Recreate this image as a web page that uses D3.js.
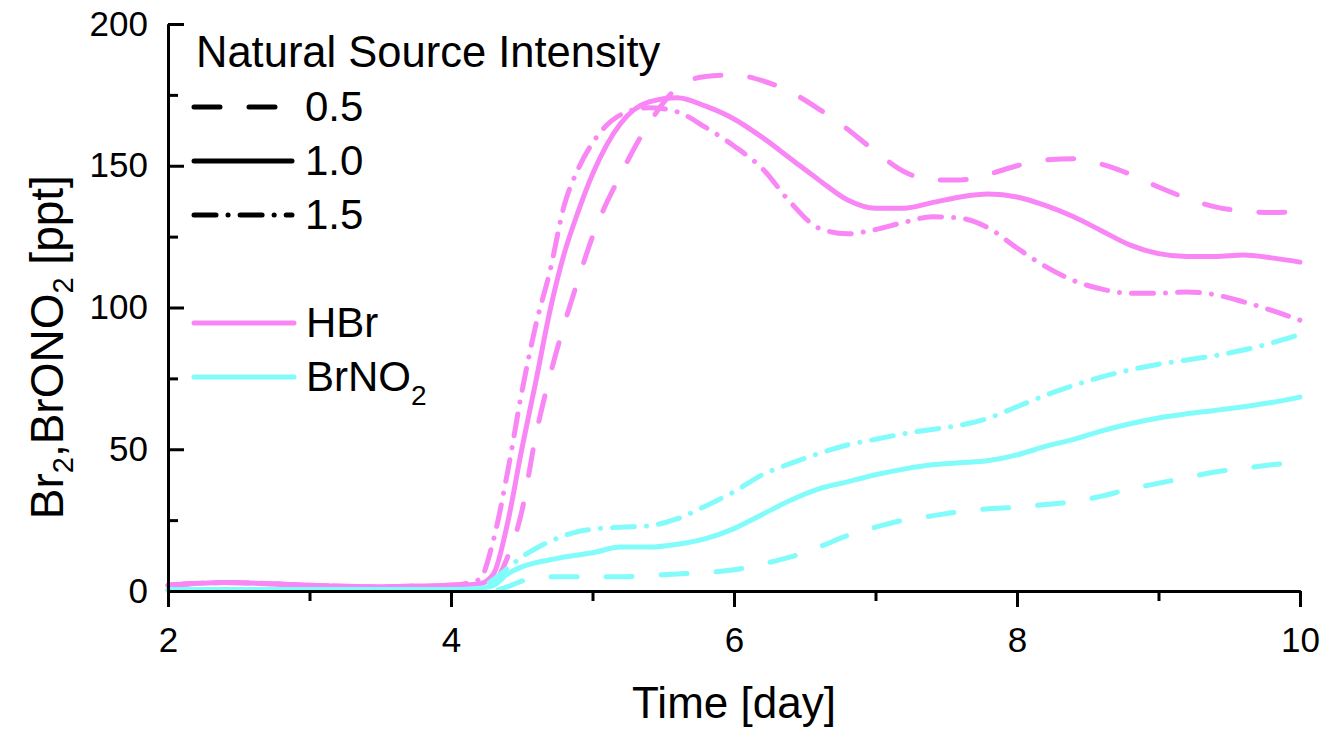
<!DOCTYPE html>
<html>
<head>
<meta charset="utf-8">
<script src="https://cdn.jsdelivr.net/npm/d3@7"></script>
<style>
  body { margin: 0; background: #fff; }
  svg text { font-family: "Liberation Sans", Arial, sans-serif; fill: #000; }
</style>
</head>
<body>
<svg id="chart"></svg>
<script>
// time axis (days)
const time = [2, 2.4, 3, 3.5, 4, 4.2, 4.3, 4.4, 4.5, 4.6, 4.7, 4.8, 4.9, 5.0, 5.2, 5.4, 5.6, 5.8, 6.0, 6.2,
  6.4, 6.6, 6.8, 7.0, 7.2, 7.4, 7.6, 7.8, 8.0, 8.2, 8.4, 8.6, 8.8, 9.0, 9.2, 9.4, 9.6, 9.8, 10]

// HBr [ppt] per natural source intensity
const hbr05 = [2, 3, 2, 1.5, 2, 2, 3, 12, 28, 55, 76, 94, 110, 125, 147, 165, 177.5, 181.5, 182, 180,
  176, 170, 163, 155, 148, 145, 145, 147, 150, 152, 152.5, 150.5, 147, 142.5, 138.5, 135.5, 134, 133.5, 134]
const hbr10 = [2, 3, 2, 1.5, 2, 2.5, 6, 24, 50, 74, 99, 119, 134, 147, 165, 172.5, 174, 171, 166.5, 160,
  152.5, 145, 138, 135, 135, 137, 139, 140, 139, 136, 132, 127, 122, 119, 118, 118, 118.5, 117.5, 116]
const hbr15 = [2, 3, 2, 1.5, 2, 4, 18, 42, 70, 94, 113, 136, 149, 158, 168, 170.5, 169, 163.5, 157, 149,
  137, 128, 126, 127.5, 130, 132, 131.5, 128, 121, 114.5, 109.5, 106.5, 105, 105, 105.5, 104.5, 102, 99, 95.5]

// BrNO2 [ppt] per natural source intensity
const brno05 = [0.3, 0.3, 0.3, 0.3, 0.3, 0.3, 0.3, 1.5, 3.5, 4.5, 5, 5, 5, 5, 5, 5.5, 6, 6.5, 7.5, 9.5,
  12, 15.5, 19.5, 22.5, 25, 26.5, 28, 29, 29.5, 30.5, 31.5, 33.5, 36, 38, 40, 42, 43.3, 44.5, 45.5]
const brno10 = [0.5, 0.5, 0.5, 0.5, 0.5, 1, 2, 6, 8.5, 10, 11, 12, 12.7, 13.5, 15.5, 15.5, 16.5, 18.5, 22, 27,
  32, 36, 38.5, 41, 43, 44.5, 45.2, 46, 48, 51, 53.5, 56.5, 59, 61, 62.5, 63.7, 65, 66.5, 68.4]
const brno15 = [0.3, 0.3, 0.3, 0.3, 0.3, 1, 4, 8, 12, 15, 17.5, 19.5, 21, 21.8, 22.5, 23, 25.5, 30, 35, 41,
  45, 48.5, 51.5, 53.5, 55.5, 57, 58.5, 61, 65, 69, 72.5, 75.5, 78, 80, 81.5, 83, 85, 87.5, 90.5]

const xTicks = [2, 4, 6, 8, 10]
const xMinor = [3, 5, 7, 9]
const yTicks = [0, 50, 100, 150, 200]
const yMinor = [25, 75, 125, 175]
const intensityLabels = ['0.5', '1.0', '1.5']

const width = 1328, height = 730
const margin = { top: 24, right: 28, bottom: 139, left: 168 }
const pink = '#f986f5', cyan = '#82fbfb'
const dashes = { '0.5': '26,29', '1.0': null, '1.5': '22,12,0.1,12' }

const svg = d3.select('#chart').attr('width', width).attr('height', height)

const x = d3.scaleLinear().domain([2, 10]).range([margin.left, width - margin.right])
const y = d3.scaleLinear().domain([0, 200]).range([height - margin.bottom, margin.top])

const series = [
  { key: '0.5', color: pink, values: hbr05 },
  { key: '1.0', color: pink, values: hbr10 },
  { key: '1.5', color: pink, values: hbr15 },
  { key: '0.5', color: cyan, values: brno05 },
  { key: '1.0', color: cyan, values: brno10 },
  { key: '1.5', color: cyan, values: brno15 }
]

const line = d3.line()
  .x(d => x(d[0]))
  .y(d => y(d[1]))
  .curve(d3.curveMonotoneX)

svg.append('g').selectAll('path')
  .data(series)
  .join('path')
    .attr('d', s => line(time.map((t, i) => [t, s.values[i]])))
    .attr('fill', 'none')
    .attr('stroke', s => s.color)
    .attr('stroke-width', 5)
    .attr('stroke-linecap', 'round')
    .attr('stroke-linejoin', 'round')
    .attr('stroke-dasharray', s => dashes[s.key])

// axes
const axisStyle = g => {
  g.select('.domain').attr('stroke-width', 3).attr('stroke', '#000')
  g.selectAll('.tick line').attr('stroke-width', 3).attr('stroke', '#000')
  g.selectAll('.tick text').attr('font-size', 35)
}

svg.append('g')
  .attr('transform', `translate(0, ${y(0)})`)
  .call(d3.axisBottom(x).tickValues(xMinor).tickSize(10).tickSizeOuter(0).tickFormat(''))
  .call(axisStyle)

svg.append('g')
  .attr('transform', `translate(0, ${y(0)})`)
  .call(d3.axisBottom(x).tickValues(xTicks).tickSize(16).tickSizeOuter(0).tickPadding(20).tickFormat(d3.format('d')))
  .call(axisStyle)

svg.append('g')
  .attr('transform', `translate(${x(2)}, 0)`)
  .call(d3.axisLeft(y).tickValues(yMinor).tickSize(-10).tickSizeOuter(0).tickFormat(''))
  .call(axisStyle)

svg.append('g')
  .attr('transform', `translate(${x(2)}, 0)`)
  .call(d3.axisLeft(y).tickValues(yTicks).tickSize(-16).tickSizeOuter(0).tickPadding(20).tickFormat(d3.format('d')))
  .call(axisStyle)

svg.selectAll('.tick text').attr('fill', '#000')

// axis titles
svg.append('text')
  .attr('x', (x(2) + x(10)) / 2)
  .attr('y', 718)
  .attr('text-anchor', 'middle')
  .attr('font-size', 44)
  .text('Time [day]')

const yTitle = svg.append('text')
  .attr('transform', `translate(63, ${y(86)}) rotate(-90)`)
  .attr('text-anchor', 'middle')
  .attr('font-size', 46)
yTitle.append('tspan').text('Br')
yTitle.append('tspan').attr('font-size', 29).attr('dy', 10).text('2')
yTitle.append('tspan').attr('dy', -10).text(',BrONO')
yTitle.append('tspan').attr('font-size', 29).attr('dy', 10).text('2')
yTitle.append('tspan').attr('dy', -10).text(' [ppt]')

// legend: line styles
const legend = svg.append('g')
legend.append('text')
  .attr('x', 196).attr('y', 67)
  .attr('font-size', 43.5)
  .text('Natural Source Intensity')

const styleRows = legend.selectAll('.style-row')
  .data(intensityLabels)
  .join('g')
    .attr('class', 'style-row')
    .attr('transform', (d, i) => `translate(0, ${107 + i * 54})`)

styleRows.append('line')
  .attr('x1', 194).attr('x2', 292)
  .attr('stroke', '#000')
  .attr('stroke-width', 5)
  .attr('stroke-linecap', 'round')
  .attr('stroke-dasharray', d => dashes[d])

styleRows.append('text')
  .attr('x', 305).attr('y', 14)
  .attr('font-size', 42)
  .text(d => d)

// legend: species colours
const species = [
  { name: 'HBr', sub: null, color: pink },
  { name: 'BrNO', sub: '2', color: cyan }
]
const speciesRows = legend.selectAll('.species-row')
  .data(species)
  .join('g')
    .attr('class', 'species-row')
    .attr('transform', (d, i) => `translate(0, ${323 + i * 54})`)

speciesRows.append('line')
  .attr('x1', 194).attr('x2', 294)
  .attr('stroke', d => d.color)
  .attr('stroke-width', 5)
  .attr('stroke-linecap', 'round')

const speciesText = speciesRows.append('text')
  .attr('x', 306).attr('y', 14)
  .attr('font-size', 42)
speciesText.append('tspan').text(d => d.name)
speciesText.filter(d => d.sub).append('tspan')
  .attr('font-size', 28).attr('dy', 14)
  .text(d => d.sub)
</script>
</body>
</html>
